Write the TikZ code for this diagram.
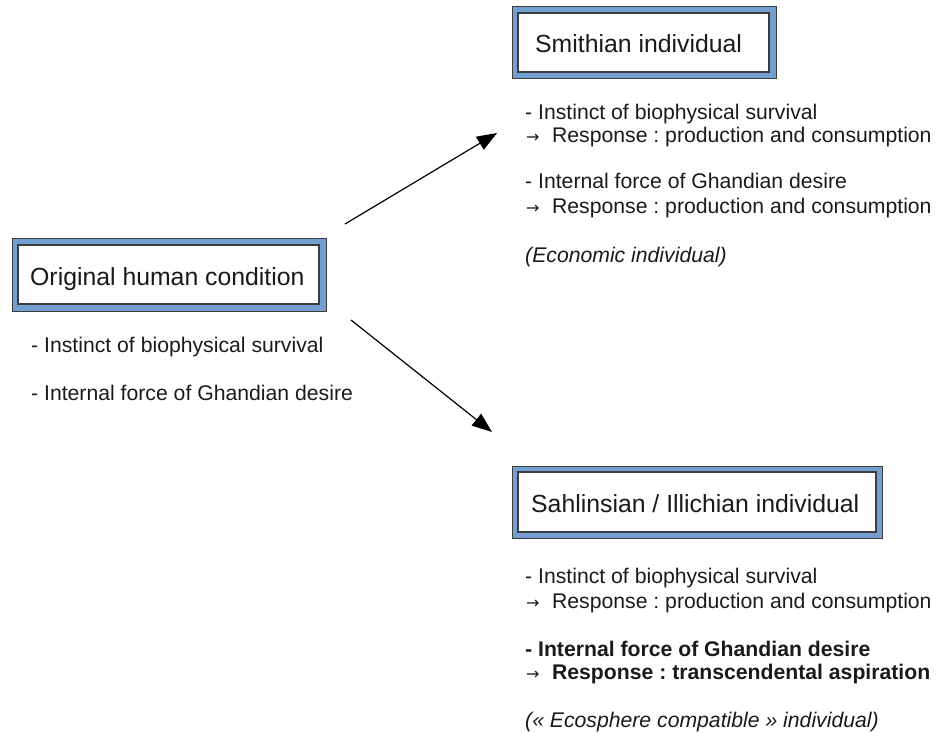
\documentclass[tikz,border=0pt]{standalone}
\usepackage{fontspec}
\setmainfont{Liberation Sans}
\newfontfamily\arrowfont{DejaVu Sans}
\usetikzlibrary{arrows.meta}
\definecolor{boxblue}{HTML}{729FCF}
\definecolor{boxedge}{HTML}{3C3C3C}
\definecolor{txt}{HTML}{1A1A1A}
\frenchspacing
\newcommand{\rarr}{{\arrowfont\fontsize{16}{16}\selectfont →}\hspace{12.5pt}}
\tikzset{
  outerbox/.style={draw=boxedge, line width=0.8pt, fill=boxblue},
  innerbox/.style={draw=boxedge, line width=1.3pt, fill=white},
  title/.style={anchor=base west, inner sep=0pt, text=txt, font=\fontsize{24.8}{30}\selectfont},
  body/.style={anchor=base west, inner sep=0pt, text=txt, font=\fontsize{21.2}{25}\selectfont\frenchspacing},
  conn/.style={line width=1.2pt, -{Triangle[length=20pt,width=15pt]}}
}
\begin{document}
\begin{tikzpicture}[x=1pt,y=-1pt]
\useasboundingbox (0,0) rectangle (939,732);
% Original human condition
\draw[outerbox] (12,238) rectangle (326,311);
\draw[innerbox] (18,245) rectangle (319,304);
\node[title] (orig) at (30,285) {Original human condition};
\node[body] (o1) at (31,352) {- Instinct of biophysical survival};
\node[body] (o2) at (31,400) {- Internal force of Ghandian desire};
% Smithian
\draw[outerbox] (512,6) rectangle (776,78);
\draw[innerbox] (518,13) rectangle (769,72);
\node[title] (smith) at (535,52) {Smithian individual};
\node[body] (s1) at (525,119) {- Instinct of biophysical survival};
\node[body] (s2) at (526,142) {\rarr Response : production and consumption};
\node[body] (s3) at (525,188) {- Internal force of Ghandian desire};
\node[body] (s4) at (526,213) {\rarr Response : production and consumption};
\node[body] (s5) at (525,262) {\itshape (Economic individual)};
% Sahlinsian
\draw[outerbox] (512,466) rectangle (882,538);
\draw[innerbox] (518,472) rectangle (876,532);
\node[title] (sahl) at (531,512) {Sahlinsian / Illichian individual};
\node[body] (b1) at (525,583) {- Instinct of biophysical survival};
\node[body] (b2) at (526,608) {\rarr Response : production and consumption};
\node[body] (b3) at (525,656) {\bfseries - Internal force of Ghandian desire};
\node[body] (b4) at (526,679) {\rarr \bfseries Response : transcendental aspiration};
\node[body] (b5) at (525,727) {\itshape (« Ecosphere compatible » individual)};
% connectors
\coordinate (a1s) at (345,224);
\coordinate (a1e) at (497,133);
\coordinate (a2s) at (351,320);
\coordinate (a2e) at (492,432);
\draw[conn] (a1s) -- (a1e);
\draw[conn] (a2s) -- (a2e);
\end{tikzpicture}
\end{document}
